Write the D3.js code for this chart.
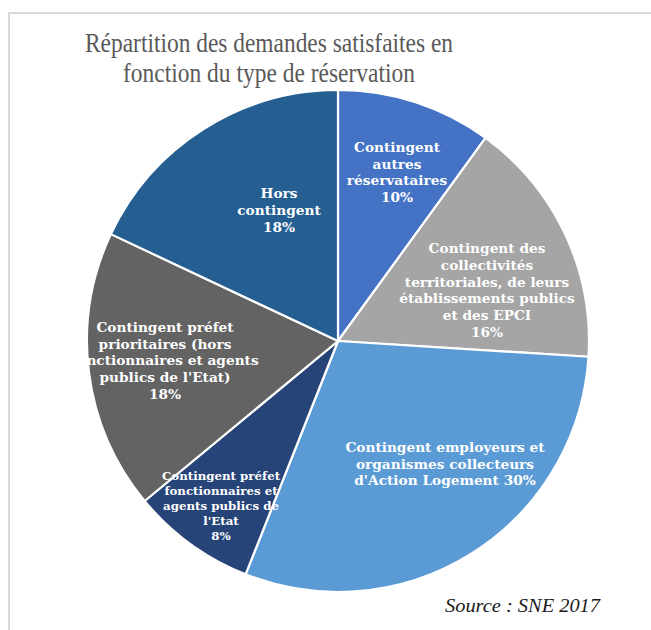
<!DOCTYPE html>
<html>
<head>
<meta charset="utf-8">
<script src="https://cdn.jsdelivr.net/npm/d3@7"></script>
<style>
  html, body { margin: 0; padding: 0; background: #ffffff; }
  svg { display: block; }
</style>
</head>
<body>
<svg id="chart" width="651" height="630"></svg>
<script>
// ---- data ----
const titleLines = ["Répartition des demandes satisfaites en", "fonction du type de réservation"];
const categories = [
  "Contingent autres réservataires",
  "Contingent des collectivités territoriales, de leurs établissements publics et des EPCI",
  "Contingent employeurs et organismes collecteurs d'Action Logement",
  "Contingent préfet fonctionnaires et agents publics de l'Etat",
  "Contingent préfet prioritaires (hors fonctionnaires et agents publics de l'Etat)",
  "Hors contingent"
];
const values = [10, 16, 30, 8, 18, 18];
const labelLines = [
  ["Contingent", "autres", "réservataires", "10%"],
  ["Contingent des", "collectivités", "territoriales, de leurs", "établissements publics", "et des EPCI", "16%"],
  ["Contingent employeurs et", "organismes collecteurs", "d'Action Logement 30%"],
  ["Contingent préfet", "fonctionnaires et", "agents publics de", "l'Etat", "8%"],
  ["Contingent préfet", "prioritaires (hors", "fonctionnaires et agents", "publics de l'Etat)", "18%"],
  ["Hors", "contingent", "18%"]
];
const sourceText = "Source : SNE 2017";

// ---- layout / style ----
const colors = ["#4472C4", "#A5A5A5", "#5B9BD5", "#264478", "#636363", "#255E91"];
const cx = 338, cy = 341, radius = 251;
// label anchor: [dx from centre, first baseline dy from centre, line height, font size]
const labelLayout = [
  [59, -189, 16.7, 13.7],
  [149, -88, 16.8, 13.7],
  [107, 111, 16.5, 13.7],
  [-117, 139, 15, 11.8],
  [-173, -9, 16.7, 13.7],
  [-59, -143, 17, 13.7]
];

const svg = d3.select("#chart");

// border
svg.append("rect")
  .attr("x", 9).attr("y", 13)
  .attr("width", 800).attr("height", 800)
  .attr("fill", "#ffffff")
  .attr("stroke", "#d9d9d9")
  .attr("stroke-width", 2);

// title
const title = svg.append("text")
  .attr("fill", "#595959")
  .attr("font-family", "'Liberation Serif', 'DejaVu Serif', serif")
  .attr("font-size", 28)
  .attr("text-anchor", "middle");
const titleWidths = [368, 292];
titleLines.forEach((t, i) => {
  title.append("tspan")
    .attr("x", 269)
    .attr("y", 52 + i * 30)
    .attr("textLength", titleWidths[i])
    .attr("lengthAdjust", "spacingAndGlyphs")
    .text(t);
});

// pie
const pie = d3.pie().sort(null).value(d => d);
const arc = d3.arc().innerRadius(0).outerRadius(radius);
const arcs = pie(values);

const g = svg.append("g").attr("transform", `translate(${cx},${cy})`);
g.selectAll("path")
  .data(arcs)
  .join("path")
  .attr("d", arc)
  .attr("fill", (d, i) => colors[i])
  .attr("stroke", "#ffffff")
  .attr("stroke-width", 2.2)
  .attr("stroke-linejoin", "round");

// labels
arcs.forEach((a, i) => {
  const [dx, dy, lh, fs] = labelLayout[i];
  const t = g.append("text")
    .attr("fill", "#ffffff")
    .attr("font-family", "'DejaVu Serif', 'Liberation Serif', serif")
    .attr("font-weight", "bold")
    .attr("font-size", fs)
    .attr("text-anchor", "middle");
  labelLines[i].forEach((line, j) => {
    t.append("tspan")
      .attr("x", dx)
      .attr("y", dy + j * lh)
      .text(line);
  });
});

// source
svg.append("text")
  .attr("x", 445).attr("y", 612)
  .attr("fill", "#1a1a1a")
  .attr("font-family", "'Liberation Serif', 'DejaVu Serif', serif")
  .attr("font-style", "italic")
  .attr("font-size", 18)
  .attr("textLength", 155)
  .attr("lengthAdjust", "spacingAndGlyphs")
  .text(sourceText);
</script>
</body>
</html>
